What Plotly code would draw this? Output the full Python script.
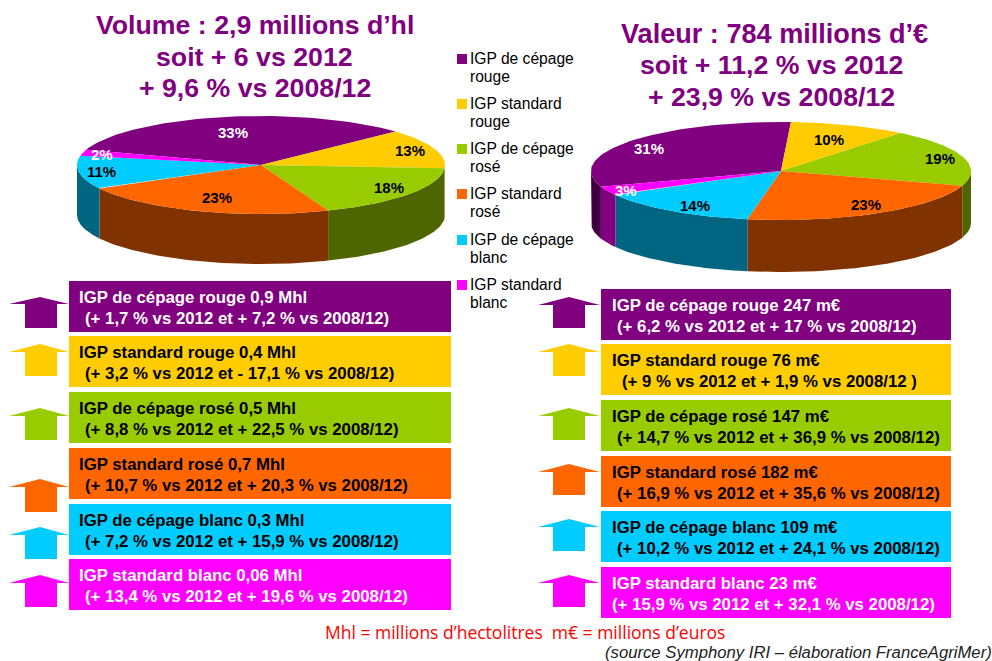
import math
import plotly.graph_objects as go

# ---- data ----
categories = ["IGP de cépage rouge", "IGP standard rouge", "IGP de cépage rosé",
              "IGP standard rosé", "IGP de cépage blanc", "IGP standard blanc"]
volume_share = [33, 13, 18, 23, 11, 2]
value_share = [31, 10, 19, 23, 14, 3]
volume_lines = ["IGP de cépage rouge 0,9 Mhl", "IGP standard rouge 0,4 Mhl", "IGP de cépage rosé 0,5 Mhl",
                "IGP standard rosé 0,7 Mhl", "IGP de cépage blanc 0,3 Mhl", "IGP standard blanc 0,06 Mhl"]
volume_changes = ["(+ 1,7 % vs 2012 et + 7,2 % vs 2008/12)", "(+ 3,2 % vs 2012 et - 17,1 % vs 2008/12)",
                  "(+ 8,8 % vs 2012 et + 22,5 % vs 2008/12)", "(+ 10,7 % vs 2012 et + 20,3 % vs 2008/12)",
                  "(+ 7,2 % vs 2012 et + 15,9 % vs 2008/12)", "(+ 13,4 % vs 2012 et + 19,6 % vs 2008/12)"]
value_lines = ["IGP de cépage rouge 247 m€", "IGP standard rouge 76 m€", "IGP de cépage rosé 147 m€",
               "IGP standard rosé 182 m€", "IGP de cépage blanc 109 m€", "IGP standard blanc 23 m€"]
value_changes = ["(+ 6,2 % vs 2012 et + 17 % vs 2008/12)", "(+ 9 % vs 2012 et + 1,9 % vs 2008/12 )",
                 "(+ 14,7 % vs 2012 et + 36,9 % vs 2008/12)", "(+ 16,9 % vs 2012 et + 35,6 % vs 2008/12)",
                 "(+ 10,2 % vs 2012 et + 24,1 % vs 2008/12)", "(+ 15,9 % vs 2012 et + 32,1 % vs 2008/12)"]
title_left = ["Volume : 2,9 millions d’hl", "soit + 6 vs 2012", "+ 9,6 % vs 2008/12"]
title_right = ["Valeur : 784 millions d’€", "soit + 11,2 % vs 2012", "+ 23,9 % vs 2008/12"]
legend_lines = [("IGP de cépage", "rouge"), ("IGP standard", "rouge"), ("IGP de cépage", "rosé"),
                ("IGP standard", "rosé"), ("IGP de cépage", "blanc"), ("IGP standard", "blanc")]
footer = "Mhl = millions d’hectolitres  m€ = millions d’euros"
source = "(source Symphony IRI – élaboration FranceAgriMer)"

# ---- styles and layout ----
colors = ["#800080", "#FFCC00", "#99CC00", "#FF6600", "#00CCFF", "#FF00FF"]
side_colors = ["#400040", "#806600", "#4F6600", "#803300", "#006580", "#800080"]
text_colors = ["white", "black", "black", "black", "black", "white"]
FONT = "Liberation Sans"

fig = go.Figure()
ann = []
shapes = []


def add_text(x, y, text, size, color="black", bold=False, italic=False, anchor="left", family=FONT):
    t = f"<b>{text}</b>" if bold else text
    t = f"<i>{t}</i>" if italic else t
    ann.append(dict(x=x, y=y, xref="x", yref="y", text=t, showarrow=False, xanchor=anchor, yanchor="middle",
                    borderpad=0, borderwidth=0, font=dict(size=size, color=color, family=family)))


def poly(xs, ys, color):
    fig.add_trace(go.Scatter(x=xs, y=ys, mode="lines", fill="toself", fillcolor=color,
                             line=dict(width=0, color=color), hoverinfo="skip", showlegend=False))


def arc(cx, cy, rx, ry, a, b, n=60):
    pts = [a + (b - a) * i / n for i in range(n + 1)]
    return ([cx + rx * math.cos(math.radians(t)) for t in pts],
            [cy - ry * math.sin(math.radians(t)) for t in pts])


def pie(values, cx, cy, rx, ry, depth, start):
    bounds = []
    a = start
    for v in values:
        bounds.append((a, a - v * 3.6))
        a -= v * 3.6
    # side walls: only the lower half of the rim is visible
    for (hi, lo), col in zip(bounds, side_colors):
        for low, high in ((-180, 0), (180, 360)):
            s, e = max(lo, low), min(hi, high)
            if e > s:
                x1, y1 = arc(cx, cy, rx, ry, e, s)
                x2, y2 = arc(cx, cy, rx, ry, s, e)
                poly(x1 + x2 + x1[:1], y1 + [y + depth for y in y2] + y1[:1], col)
    for (hi, lo), col in zip(bounds, colors):
        x1, y1 = arc(cx, cy, rx, ry, hi, lo)
        poly([cx] + x1 + [cx], [cy] + y1 + [cy], col)


pie(volume_share, 261, 165, 184, 49, 50, 161.8)
pie(value_share, 781, 171, 190, 49, 52, 198.6)

# percentage labels
left_pos = [(233, 132), (410, 150), (389, 187), (217, 197), (101, 171), (102, 154)]
right_pos = [(649, 148), (829, 139), (940, 158), (866, 204), (695, 205), (626, 190)]
for vals, pos in ((volume_share, left_pos), (value_share, right_pos)):
    for v, (x, y), c in zip(vals, pos, text_colors):
        add_text(x, y, f"{v}%", 15, c, bold=True, anchor="center")

# titles
for line, y in zip(title_left, (25, 57, 88)):
    add_text(254.5, y, line, 26.7, "#800080", bold=True, anchor="center")
for line, x, y, s in zip(title_right, (774, 771.5, 771), (33, 65, 97), (27.1, 26.7, 26.7)):
    add_text(x, y, line, s, "#800080", bold=True, anchor="center")

# hand-drawn legend
legend_y = [59, 104, 149, 194, 240, 285]
for (l1, l2), y, col in zip(legend_lines, legend_y, colors):
    shapes.append(dict(type="rect", xref="x", yref="y", x0=457, x1=467, y0=y - 5, y1=y + 5,
                       fillcolor=col, line_width=0))
    add_text(470, y - 0.5, l1, 15.6)
    add_text(470, y + 17, l2, 15.6)

# boxes and arrows
left_box_y = [(281, 332), (336, 387), (392, 443), (448, 499), (504, 555), (559, 610)]
right_box_y = [(289, 340), (344, 395), (400, 451), (456, 507), (511, 562), (567, 618)]
left_arrow_y = [(297, 304, 328), (344, 352, 376), (408, 416, 440), (479, 487, 512), (527, 535, 559), (575, 583, 607)]
right_arrow_y = [(297, 305, 328), (344, 352, 376), (408, 416, 440), (464, 472, 495), (519, 527, 551), (575, 583, 607)]


def panel(lines, changes, box_y, arrow_y, x0, x1, tx, cx, wing0, wing1, body0, body1, offs):
    for i in range(6):
        y0, y1 = box_y[i]
        shapes.append(dict(type="rect", xref="x", yref="y", x0=x0, x1=x1, y0=y0, y1=y1,
                           fillcolor=colors[i], line_width=0, layer="below"))
        top, wing, bot = arrow_y[i]
        poly([cx, wing1, body1, body1, body0, body0, wing0, cx],
             [top, wing, wing, bot, bot, wing, wing, top], colors[i])
        add_text(tx, y0 + 16.5, lines[i], 16.8, text_colors[i], bold=True)
        add_text(tx + offs[i], y0 + 37, changes[i], 16.8, text_colors[i], bold=True)


panel(volume_lines, volume_changes, left_box_y, left_arrow_y, 69, 451, 79, 40, 9, 69, 25, 57, [6] * 6)
panel(value_lines, value_changes, right_box_y, right_arrow_y, 601, 951, 612, 569, 538, 600, 553, 585,
      [5, 10, 5, 5, 5, 0])

add_text(525, 632, footer, 17.5, "#FF0000", anchor="center", family="Open Sans")
add_text(605, 652, source, 16.7, "#222222", italic=True)

fig.update_layout(
    width=992, height=661, margin=dict(l=0, r=0, t=0, b=0),
    paper_bgcolor="white", plot_bgcolor="white", showlegend=False,
    xaxis=dict(range=[0, 992], visible=False, fixedrange=True),
    yaxis=dict(range=[661, 0], visible=False, fixedrange=True),
    annotations=ann, shapes=shapes,
)
fig.write_html("out.html", config={"displayModeBar": False}, post_script="document.body.style.margin='0';")
